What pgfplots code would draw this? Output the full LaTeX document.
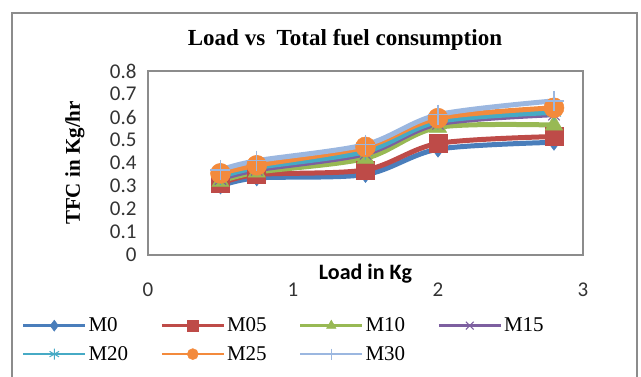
\documentclass[border=0pt]{standalone}
\usepackage{pgfplots}
\pgfplotsset{compat=1.18}
\usepackage{fontspec}
\setmainfont{Liberation Serif}
\newfontfamily\calib{Carlito}
\usetikzlibrary{plotmarks}

\definecolor{cM0}{HTML}{4A7EBB}
\definecolor{cM05}{HTML}{BE4B48}
\definecolor{cM10}{HTML}{98B954}
\definecolor{cM15}{HTML}{7D5FA0}
\definecolor{cM20}{HTML}{46AAC5}
\definecolor{cM25}{HTML}{F38A3C}
\definecolor{cM30}{HTML}{9BB7E0}
\definecolor{frame}{HTML}{8C8C8C}

\pgfplotstableread{
x    M0    M05   M10   M15   M20   M25   M30
0.5  0.30  0.31  0.32  0.33  0.34  0.355 0.37
0.75 0.335 0.35  0.36  0.37  0.38  0.39  0.41
1.5  0.35  0.37  0.42  0.44  0.45  0.47  0.48
2.0  0.46  0.485 0.555 0.57  0.58  0.595 0.61
2.8  0.49  0.515 0.565 0.61  0.62  0.64  0.67
}\tfcdata

\begin{document}
\begin{tikzpicture}[x=1pt,y=1pt]
\useasboundingbox (0,0) rectangle (641,-377);
\draw[frame, line width=1.5pt] (12,-13) rectangle (637,-420);
\node[font=\fontsize{23}{26}\selectfont\bfseries] at (345,-40) {Load vs\ \ Total fuel consumption};
\begin{axis}[
  at={(148pt,-255pt)}, anchor=south west,
  scale only axis, width=435pt, height=184pt,
  xmin=0, xmax=3, ymin=0, ymax=0.8,
  xtick={0,1,2,3}, ytick={0,0.1,...,0.8},
  yticklabels={0,0.1,0.2,0.3,0.4,0.5,0.6,0.7,0.8},
  major tick length=0pt,
  axis line style={frame, line width=1.2pt},
  tick label style={font=\fontsize{21}{24}\calib, text=black!80},
  /pgf/number format/assume math mode=true,
  xticklabel style={yshift=-24pt},
  yticklabel style={xshift=-8pt},
  xlabel={Load in Kg},
  xlabel style={font=\fontsize{22}{24}\calib\bfseries, at={(axis description cs:0.5,0)}, anchor=north, yshift=-6pt},
  ylabel={TFC in Kg/hr},
  ylabel style={font=\fontsize{21}{24}\selectfont\bfseries, at={(axis description cs:0,0.5)}, anchor=south, yshift=60pt},
  every axis plot/.append style={line width=5pt, smooth, tension=0.5},
  legend columns=4,
  legend style={draw=none, fill=none, font=\fontsize{21}{24}\selectfont,
    at={(axis description cs:-0.29,-0.33)}, anchor=north west,
    column sep=0pt, row sep=9pt, inner sep=0pt},
  legend cell align=left,
  legend image code/.code={%
    \draw[#1, line width=2.5pt, mark size=5.5pt, mark repeat=2, mark phase=2]
      plot coordinates {(0pt,0pt) (31pt,0pt) (62pt,0pt)};},
]
\addplot[cM0, mark=diamond*, mark size=8pt, mark options={solid, line width=0.5pt}] table[x=x,y=M0] {\tfcdata};
\addlegendentry{\makebox[70pt][l]{M0}}
\addplot[cM05, mark=square*, mark size=9pt, mark options={solid, line width=0.5pt}] table[x=x,y=M05] {\tfcdata};
\addlegendentry{\makebox[70pt][l]{M05}}
\addplot[cM10, mark=triangle*, mark size=10pt, mark options={solid, line width=0.5pt}] table[x=x,y=M10] {\tfcdata};
\addlegendentry{\makebox[70pt][l]{M10}}
\addplot[cM15, mark=x, mark size=8pt, mark options={solid, line width=1pt}] table[x=x,y=M15] {\tfcdata};
\addlegendentry{\makebox[70pt][l]{M15}}
\addplot[cM20, mark=asterisk, mark size=8pt, mark options={solid, line width=1pt}] table[x=x,y=M20] {\tfcdata};
\addlegendentry{\makebox[70pt][l]{M20}}
\addplot[cM25, mark=*, mark size=10pt, mark options={solid, line width=0.5pt}] table[x=x,y=M25] {\tfcdata};
\addlegendentry{\makebox[70pt][l]{M25}}
\addplot[cM30, mark=+, mark size=10pt, mark options={solid, line width=1.5pt}] table[x=x,y=M30] {\tfcdata};
\addlegendentry{\makebox[70pt][l]{M30}}
\end{axis}
\end{tikzpicture}
\end{document}
